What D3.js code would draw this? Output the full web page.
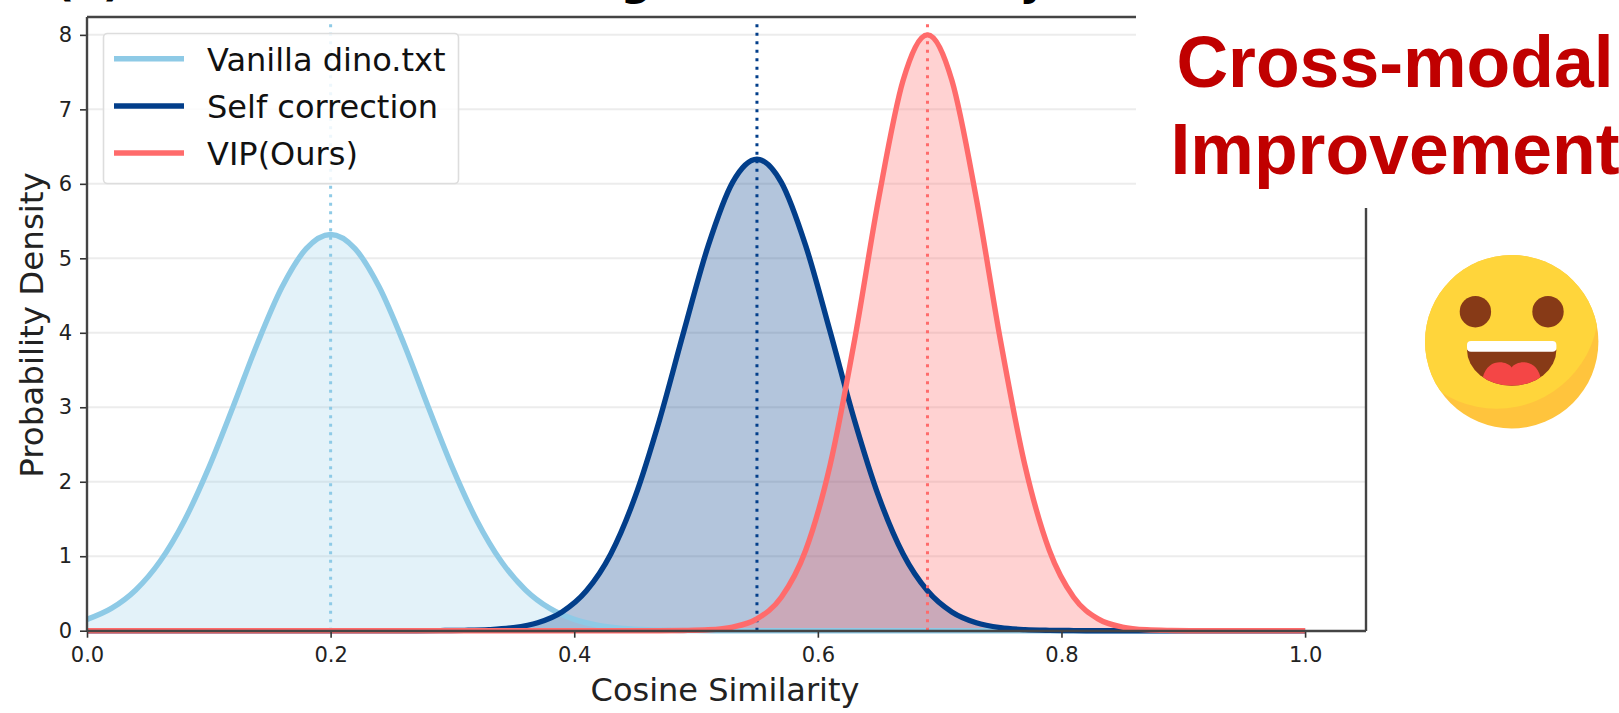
<!DOCTYPE html>
<html><head><meta charset="utf-8">
<style>html,body{margin:0;padding:0;background:#fff;overflow:hidden}svg{display:block}</style>
<script src="https://cdnjs.cloudflare.com/ajax/libs/d3/7.8.5/d3.min.js"></script></head>
<body><svg id="c" width="1619" height="713"></svg>
<script>
const xTicks=[0,0.2,0.4,0.6,0.8,1.0];
const yTicks=[0,1,2,3,4,5,6,7,8];
const vanillaX=[0,.02,.04,.06,.08,.10,.12,.14,.16,.18,.20,.22,.24,.26,.28,.30,.32,.34,.36,.38,.40,.42,.44,.46,.48,.50,.52,1];
const vanillaY=[.152,.299,.547,.932,1.48,2.19,3.01,3.86,4.61,5.13,5.32,5.13,4.61,3.86,3.01,2.19,1.48,.932,.547,.299,.152,.072,.032,.013,.005,.002,0,0];
const selfX=[0,.27,.29,.31,.33,.35,.37,.39,.41,.43,.45,.47,.49,.51,.53,.55,.57,.59,.61,.63,.65,.67,.69,.71,.73,.75,.77,.79,.81,.83,1];
const selfY=[0,0,.0013,.0045,.014,.041,.107,.252,.536,1.03,1.80,2.83,4.02,5.17,6.02,6.33,6.02,5.17,4.02,2.83,1.80,1.03,.536,.252,.107,.041,.014,.0045,.0013,0,0];
const vipX=[0,.47,.49,.51,.53,.55,.57,.59,.61,.63,.65,.67,.69,.71,.73,.75,.77,.79,.81,.83,.85,.87,.89,.91,1];
const vipY=[0,0,.003,.012,.048,.159,.449,1.08,2.22,3.89,5.81,7.39,8.0,7.39,5.81,3.89,2.22,1.08,.449,.159,.048,.012,.003,0,0];
const seriesNames=["Vanilla dino.txt","Self correction","VIP(Ours)"];
const seriesColors=["#8ecae6","#023e8a","#ff6b6b"];
const seriesMeans=[0.2,0.55,0.69];
const titleText="(a) Cross-modal Text Alignment Similarity";
const xLabel="Cosine Similarity", yLabel="Probability Density";
const noteLines=["Cross-modal","Improvement"];

const svg=d3.select("#c");
const x=d3.scaleLinear().domain([0,1.05]).range([87,1366]);
const y=d3.scaleLinear().domain([0,8.24]).range([630.7,17]);
const F="'DejaVu Sans',sans-serif";

// title (clipped by the top of the frame, as in the reference)
svg.append("text").attr("x",55).attr("y",-4).attr("textLength",992).attr("lengthAdjust","spacingAndGlyphs").attr("font-family",F).attr("font-weight","bold").attr("font-size",38).text(titleText);

// grid
svg.append("g").selectAll("line").data(yTicks.slice(1)).join("line")
 .attr("x1",x.range()[0]).attr("x2",x.range()[1]).attr("y1",d=>y(d)).attr("y2",d=>y(d))
 .attr("stroke","#ececec").attr("stroke-width",2);

const series=[[vanillaX,vanillaY],[selfX,selfY],[vipX,vipY]].map((s,i)=>({pts:s[0].map((v,k)=>[v,s[1][k]]),color:seriesColors[i],mean:seriesMeans[i],name:seriesNames[i]}));
const area=d3.area().x(d=>x(d[0])).y0(y(0)).y1(d=>y(d[1])).curve(d3.curveMonotoneX);
const line=d3.line().x(d=>x(d[0])).y(d=>y(d[1])).curve(d3.curveMonotoneX);
series.forEach(s=>{
 svg.append("path").attr("d",area(s.pts)).attr("fill",s.color).attr("fill-opacity",s.color==="#8ecae6"?0.25:0.3);
});
series.forEach(s=>{
 svg.append("path").attr("d",line(s.pts)).attr("fill","none").attr("stroke",s.color).attr("stroke-width",5.4).attr("stroke-linejoin","round");
 svg.append("line").attr("x1",x(s.mean)).attr("x2",x(s.mean)).attr("y1",y(0)).attr("y2",20)
  .attr("stroke",s.color).attr("stroke-width",3).attr("stroke-dasharray","3 5.5");
});

// axes
const gx=svg.append("g").attr("transform",`translate(0,${y(0)})`).call(d3.axisBottom(x).tickValues(xTicks).tickFormat(d3.format(".1f")).tickSize(7).tickPadding(9));
const gy=svg.append("g").attr("transform",`translate(${x(0)},0)`).call(d3.axisLeft(y).tickValues(yTicks).tickFormat(d3.format("d")).tickSize(7).tickPadding(8));
[gx,gy].forEach(g=>{g.selectAll("text").attr("font-family",F).attr("font-size",21).attr("fill","#222");
 g.selectAll(".tick line").attr("stroke","#333").attr("stroke-width",1.6);
 g.select(".domain").remove();});
const spine=(a,b,c,d,w=2.4)=>svg.append("line").attr("x1",a).attr("y1",b).attr("x2",c).attr("y2",d).attr("stroke","#444").attr("stroke-width",w);
spine(87,17,87,631); spine(87,631,1366,631); spine(87,17,1366,17); spine(1366,17,1366,631);

svg.append("text").attr("x",725).attr("y",701).attr("text-anchor","middle").attr("font-family",F).attr("font-size",32).attr("fill","#222").text(xLabel);
svg.append("text").attr("transform","translate(43,325) rotate(-90)").attr("text-anchor","middle").attr("font-family",F).attr("font-size",32.5).attr("fill","#222").text(yLabel);

// legend
const lg=svg.append("g");
lg.append("rect").attr("x",103.5).attr("y",33.5).attr("width",355).attr("height",150).attr("rx",4).attr("fill","#fff").attr("fill-opacity",.85).attr("stroke","#ddd").attr("stroke-width",1.6);
series.forEach((s,i)=>{
 const ly=58.7+47.2*i;
 lg.append("line").attr("x1",114).attr("x2",184).attr("y1",ly).attr("y2",ly).attr("stroke",s.color).attr("stroke-width",5.5);
 lg.append("text").attr("x",207).attr("y",ly+12).attr("font-family",F).attr("font-size",32).attr("fill","#111").text(s.name);
});

// white overlay panel
svg.append("rect").attr("x",1136).attr("y",0).attr("width",483).attr("height",208).attr("fill","#fff");
svg.append("g").selectAll("text").data(noteLines).join("text").attr("x",1395).attr("y",(d,i)=>87+87*i)
 .attr("text-anchor","middle").attr("font-family","'Liberation Sans',Arial,sans-serif").attr("font-weight","bold").attr("font-size",71.5).attr("fill","#c00000").text(d=>d);

// smiley
const e=svg.append("g").attr("transform","translate(1511.7,341.7)");
e.append("circle").attr("r",86.7).attr("fill","#ffc43d");
e.append("clipPath").attr("id","fc").append("circle").attr("r",86.7);
e.append("circle").attr("cx",-15).attr("cy",-35).attr("r",102).attr("fill","#ffd53b").attr("clip-path","url(#fc)");
[[-36.3,-30],[36.3,-30]].forEach(p=>e.append("circle").attr("cx",p[0]).attr("cy",p[1]).attr("r",15.7).attr("fill","#873a17"));
const mouth="M-44.7,8 A44.7,36 0 0 0 44.7,8 Z";
e.append("path").attr("d",mouth).attr("fill","#873a17");
e.append("clipPath").attr("id","mc").append("path").attr("d",mouth);
e.append("path").attr("clip-path","url(#mc)").attr("d","M0,25.7 C-5,19 -24,16 -29,36 L-24,60 L24,60 L29,36 C24,16 5,19 0,25.7 Z").attr("fill","#f44646");
e.append("rect").attr("x",-44.7).attr("y",-0.7).attr("width",89.4).attr("height",10.7).attr("rx",4).attr("fill","#fff");
</script></body></html>
